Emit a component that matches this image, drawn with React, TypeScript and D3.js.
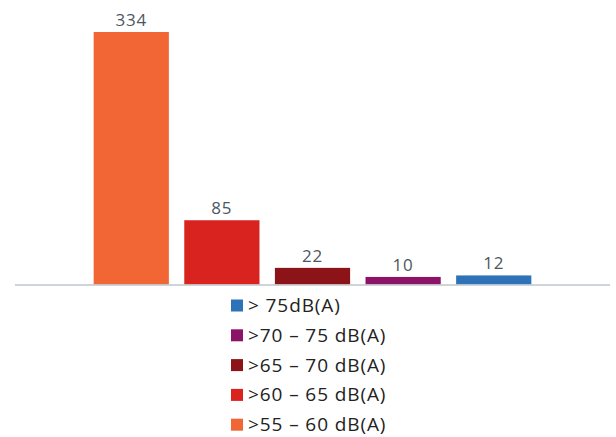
import React from "react";
import * as d3 from "d3";

const categories = [">55 – 60 dB(A)", ">60 – 65 dB(A)", ">65 – 70 dB(A)", ">70 – 75 dB(A)", "> 75dB(A)"];
const values = [334, 85, 22, 10, 12];
const colors = ["#F26535", "#D8231F", "#8C1318", "#8C1468", "#2E73B8"];
const legendOrder = [4, 3, 2, 1, 0];

const W = 616;
const H = 437;

export default function App() {
  const baseline = 284.5;
  const x = d3.scaleBand<string>().domain(categories).range([15, 610]).paddingInner(0.17).paddingOuter(0.868);
  const y = d3.scaleLinear().domain([0, 334]).range([baseline, 32]);
  return (
    <svg width={W} height={H} style={{ position: "absolute", left: 0, top: 0, background: "#fff" }}>
      {categories.map((c, i) => (
        <g key={c}>
          <rect x={x(c)} y={y(values[i])} width={x.bandwidth()} height={baseline - y(values[i])} fill={colors[i]} />
          <text x={(x(c) as number) + x.bandwidth() / 2} y={y(values[i]) - 6} textAnchor="middle"
            fontFamily="'Open Sans', sans-serif" fontSize={17} letterSpacing={0.8} fill="#4d5761">{values[i]}</text>
        </g>
      ))}
      <line x1={15} x2={610} y1={baseline + 0.5} y2={baseline + 0.5} stroke="#BFC6CB" strokeWidth={1.5} />
      {legendOrder.map((idx, k) => {
        const top = 299.5 + k * 29.8;
        return (
          <g key={idx}>
            <rect x={231} y={top} width={12} height={12} fill={colors[idx]} />
            <text x={248} y={top + 12.5} fontFamily="'Open Sans', sans-serif" fontSize={19} letterSpacing={0.9} fill="#222">{categories[idx]}</text>
          </g>
        );
      })}
    </svg>
  );
}
